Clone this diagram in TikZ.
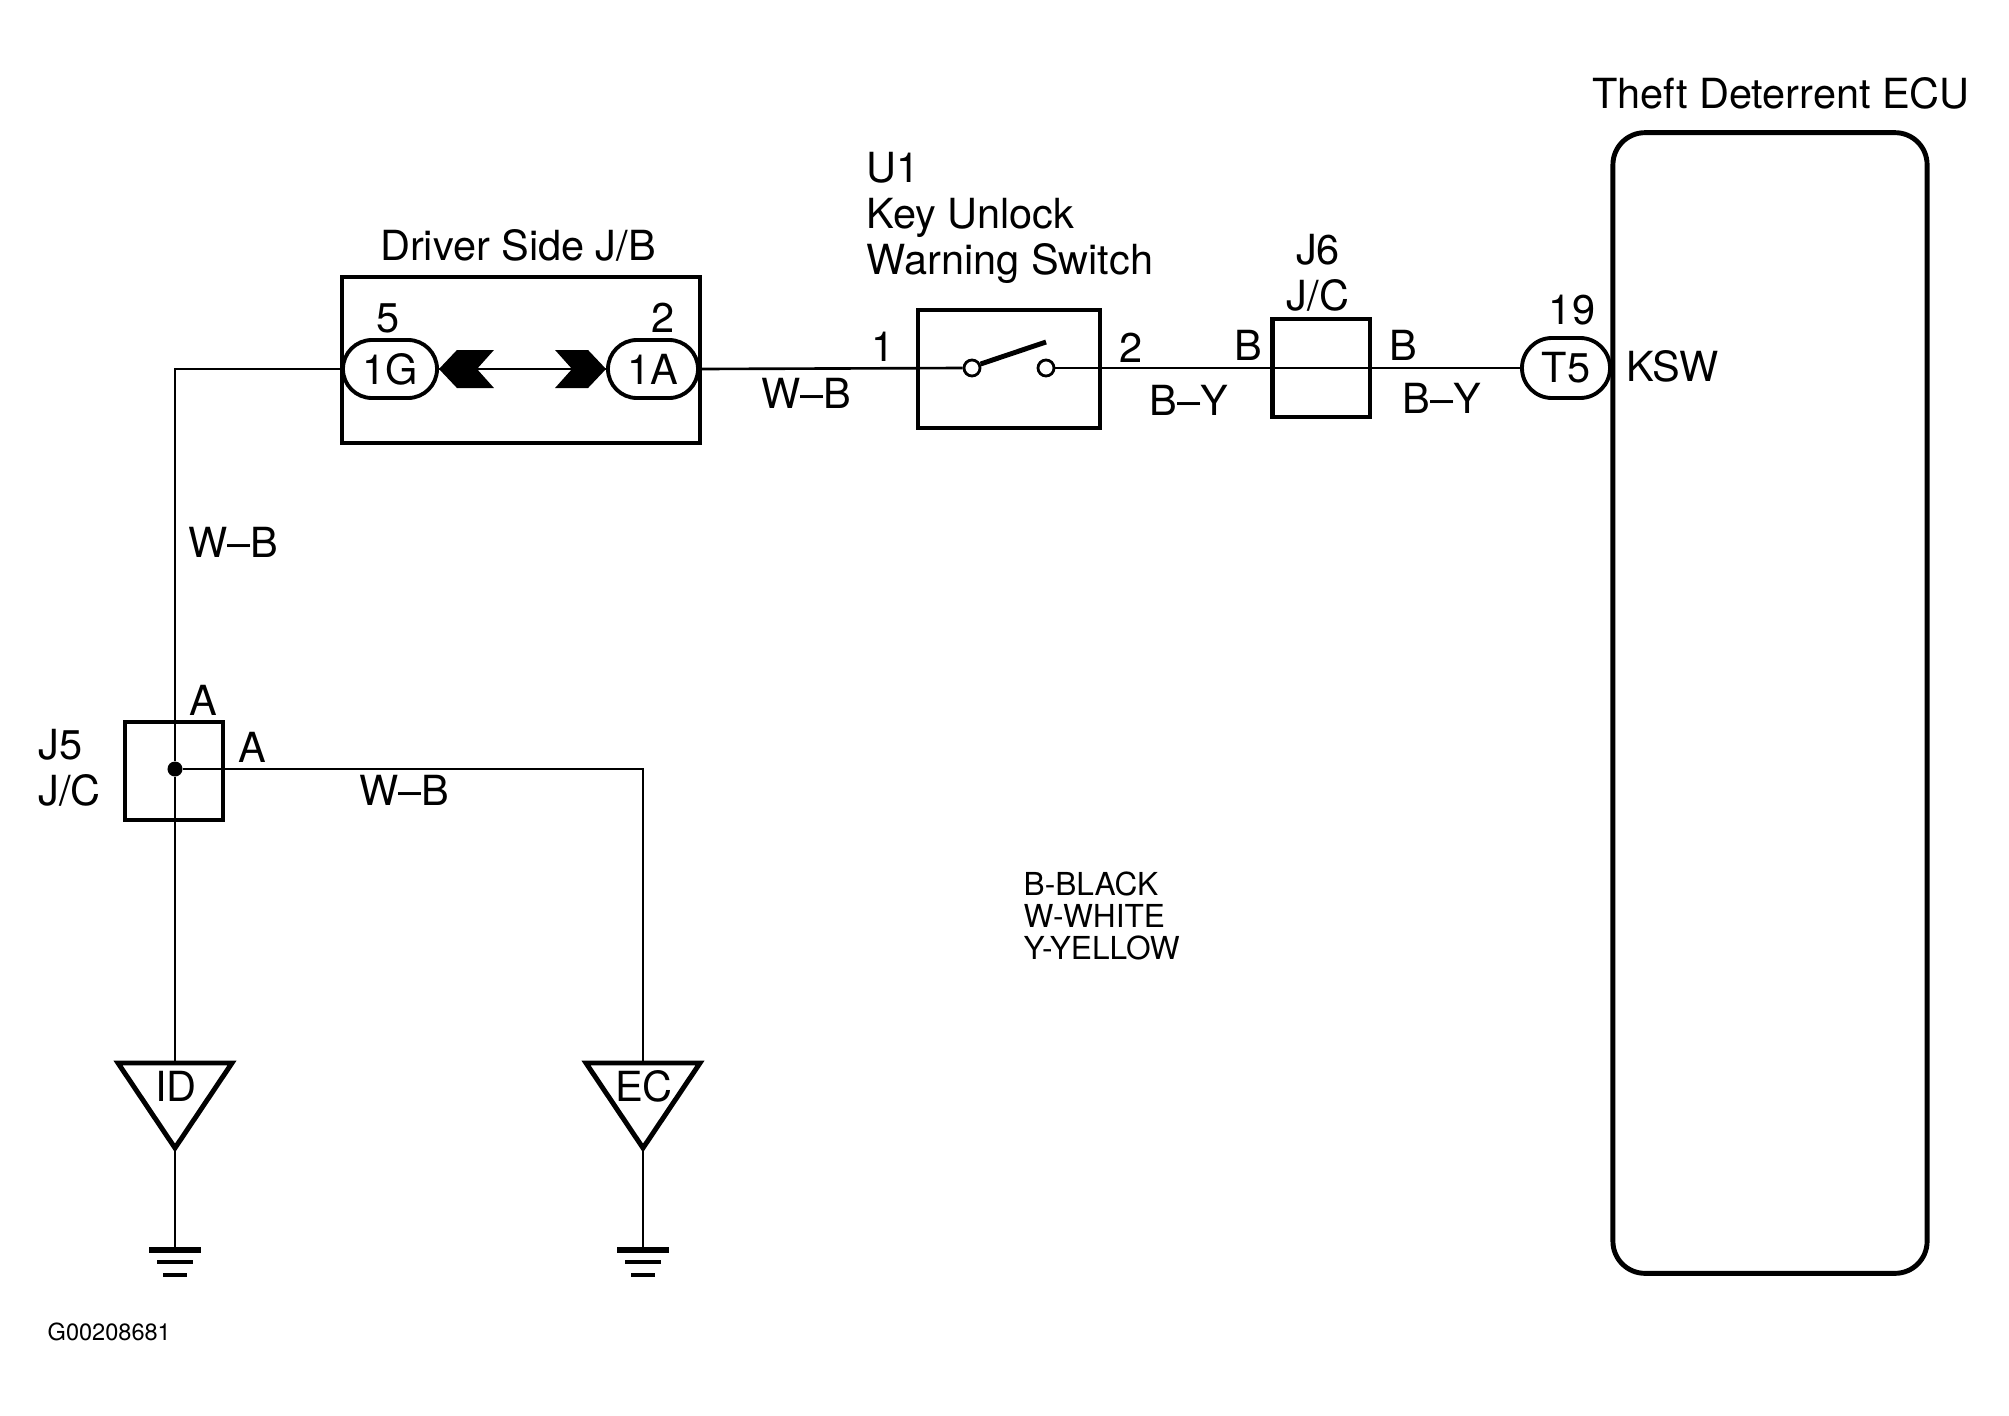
\documentclass[tikz,border=0pt]{standalone}
\usepackage{fontspec}
\setmainfont{TeX Gyre Heros}
\usetikzlibrary{shapes.misc}

\begin{document}
\begin{tikzpicture}[x=0.01cm, y=-0.01cm,
    every node/.style={font=\fontsize{11.8}{13}\selectfont, inner sep=0pt},
    wire/.style={line width=0.75pt},
    box/.style={draw, line width=1.15pt, inner sep=0pt},
    pin/.style={draw, rounded rectangle, line width=1.1pt, minimum height=0.58cm, inner sep=0pt},
    contact/.style={draw, circle, line width=0.8pt, minimum size=0.16cm, inner sep=0pt},
    tri/.style={line width=1.4pt, line join=miter},
    legend/.style={font=\fontsize{9}{9.1}\selectfont}]
    \useasboundingbox (0,0) rectangle (2009,1415);

    % driver side J/B
    \node [box, minimum width=3.58cm, minimum height=1.66cm] (jb) at (521,360) {};
    \node (jbname) at (518,245) {Driver Side J/B};
    \node [pin, minimum width=0.94cm] (c1G) at (390,369) {1G};
    \node [pin, minimum width=0.90cm] (c1A) at (653,369) {1A};
    \node (p5) at (388,318) {5};
    \node (p2) at (663,318) {2};
    \draw [wire] (c1G.east) -- (c1A.west);
    \fill (c1G.east) -- ++(18,-19) -- ++(37,0) -- ++(-17,19) -- ++(17,19) -- ++(-37,0) -- cycle;
    \fill (c1A.west) -- ++(-18,-19) -- ++(-33,0) -- ++(17,19) -- ++(-17,19) -- ++(33,0) -- cycle;

    % key unlock warning switch
    \node [box, minimum width=1.81cm, minimum height=1.18cm] (sw) at (1009,369) {};
    \node [anchor=west, align=left] (swname) at (866,218) {U1\\Key Unlock\\Warning Switch};
    \node [contact] (swa) at (972,368) {};
    \node [contact] (swb) at (1046,368) {};
    \coordinate (swtip) at (1046,342);
    \draw [line width=1.4pt] (swa.25) -- (swtip);
    \node (s1) at (883,347) {1};
    \node (s2) at (1131,348) {2};
    \draw [wire] (c1A.east) -- (swa.west);
    \node (wb1) at (806,393) {W--B};

    % J6
    \node [box, minimum width=0.97cm, minimum height=0.97cm] (j6) at (1321,368) {};
    \node [align=center] (j6name) at (1318,273) {J6\\J/C};
    \node (j6l) at (1248,345) {B};
    \node (j6r) at (1403,345) {B};
    \node (by1) at (1189,400) {B--Y};
    \node (by2) at (1442,398) {B--Y};

    % theft deterrent ECU
    \node [draw, line width=1.4pt, rounded corners=0.32cm, minimum width=3.14cm, minimum height=11.4cm] (ecu) at (1770,703) {};
    \node (ecuname) at (1781,93) {Theft Deterrent ECU};
    \node [pin, minimum width=0.88cm, minimum height=0.60cm] (t5) at (1566,368) {T5};
    \node (p19) at (1572,310) {19};
    \node [anchor=west] (ksw) at (1626,366) {KSW};
    \draw [wire] (swb.east) -- (t5.west);

    % J5 and grounds
    \node [box, minimum width=0.98cm, minimum height=0.98cm] (j5) at (174,771) {};
    \node [circle, fill, minimum size=0.15cm] (j5dot) at (175,769) {};
    \node [anchor=west, align=left] (j5name) at (38,768) {J5\\J/C};
    \node (j5a) at (203,700) {A};
    \node (j5b) at (252,747) {A};
    \node (wb2) at (233,542) {W--B};
    \node (wb3) at (404,790) {W--B};

    \foreach \gx/\gn in {175/ID, 643/EC} {
      \coordinate (top\gn) at (\gx,1063);
      \coordinate (apex\gn) at (\gx,1148);
      \coordinate (gnd\gn) at (\gx,1250);
      \draw [tri] (\gx-57,1063) -- (\gx+57,1063) -- (apex\gn) -- cycle;
      \node (lbl\gn) at (\gx+1,1086) {\gn};
      \draw [wire] (apex\gn) -- (gnd\gn);
      \draw [line width=1.5pt] (\gx-26,1250) -- (\gx+26,1250);
      \draw [line width=0.9pt] (\gx-18,1262) -- (\gx+18,1262);
      \draw [line width=0.9pt] (\gx-12,1275) -- (\gx+12,1275);
    }

    \draw [wire] (c1G.west) -| (j5dot);
    \draw [wire] (j5dot) -- (topID);
    \draw [wire] (j5dot) -| (topEC);

    % legend
    \node [legend, anchor=west, align=left] (colours) at (1023,916) {B-BLACK\\W-WHITE\\Y-YELLOW};
    \node [font=\fontsize{6.7}{8}\selectfont, anchor=west] (figno) at (47,1332) {G00208681};
\end{tikzpicture}
\end{document}
